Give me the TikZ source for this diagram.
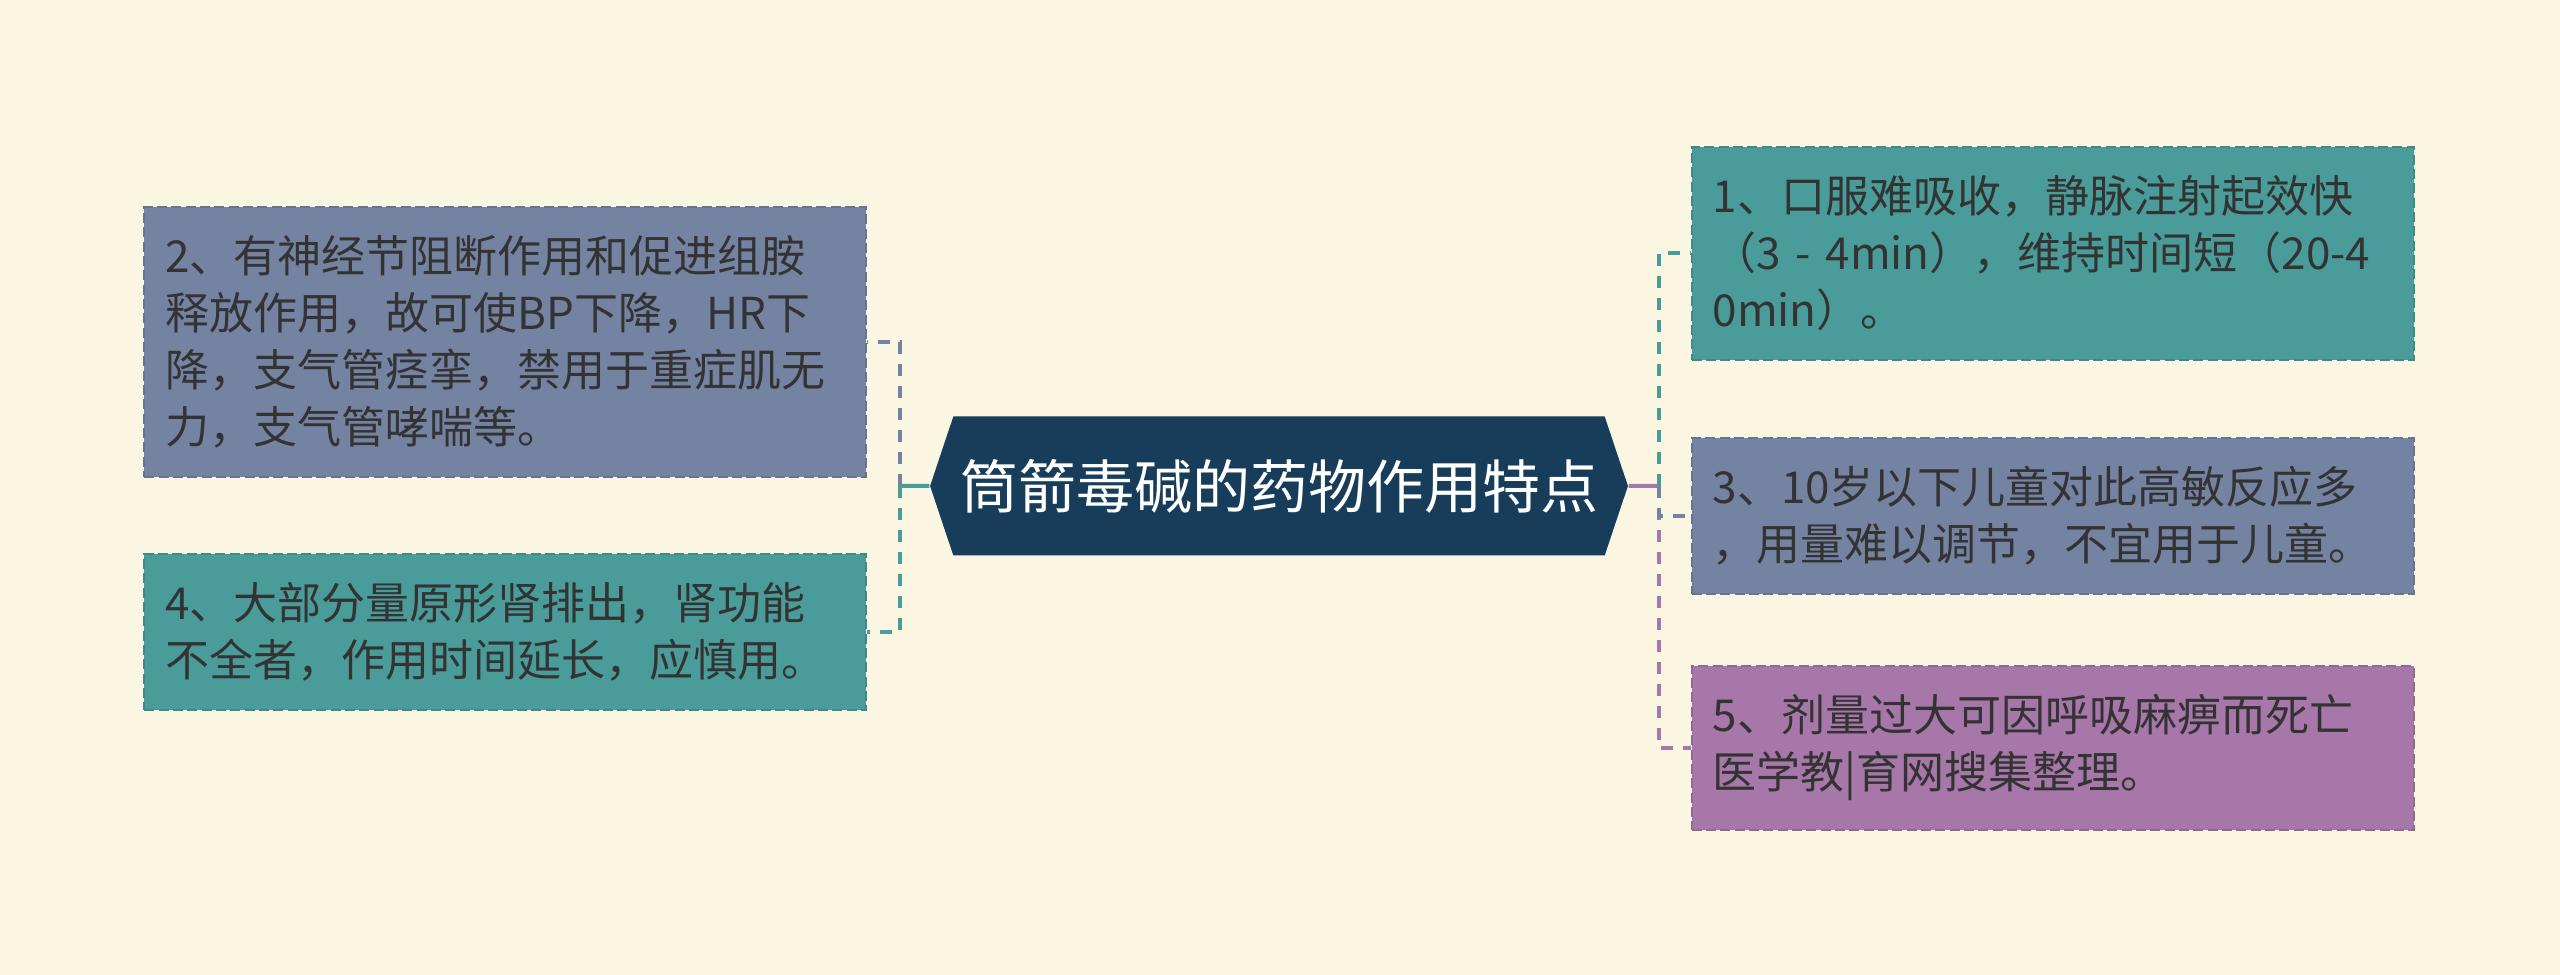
\documentclass[tikz,border=0pt]{standalone}
\usepackage{fontspec}
\setmainfont{Noto Sans CJK SC}
\usepackage{tikz}
\usetikzlibrary{positioning,shapes.symbols}
\definecolor{cream}{HTML}{FBF6E1}
\definecolor{navy}{HTML}{173D5B}
\definecolor{slate}{HTML}{7583A3}
\definecolor{teal}{HTML}{4A9C9A}
\definecolor{mauve}{HTML}{A677A8}
\definecolor{ink}{HTML}{333333}
\tikzset{
    %Define style for the central node
    rootnode/.style={
           signal,
           signal to=west and east,
           signal pointer angle=143,
           fill=navy, draw=none,
           minimum width=193pt,
           minimum height=41.7pt,
           inner xsep=2pt,
           font=\fontsize{17.4pt}{21pt}\selectfont,
           text=white},
    %Define style for boxes
    leaf/.style={
           rectangle,
           line width=0.6pt,
           dash pattern=on 3pt off 1.3pt,
           preaction={draw=white!85!cream, solid, line width=0.6pt},
           text width=204pt,
           inner xsep=6.3pt,
           inner ysep=8.6pt,
           align=left,
           font=\fontsize{13.2pt}{17.1pt}\selectfont,
           text=ink},
    slatebox/.style={leaf, fill=slate, draw=slate!88!black},
    tealbox/.style={leaf, fill=teal, draw=teal!88!black},
    mauvebox/.style={leaf, fill=mauve, draw=mauve!88!black},
    % Define connector styles
    stub/.style={line width=1.2pt},
    conn/.style={
           line width=1.2pt,
           dash pattern=on 3.6pt off 3pt,
           to path={|- (\tikztotarget)}},
    slatedash/.style={conn, draw=slate},
    tealdash/.style={conn, draw=teal},
    mauvedash/.style={conn, draw=mauve}
}

\begin{document}
\begin{tikzpicture}[x=0.3pt,y=0.3pt]
\fill[cream] (0,0) rectangle (2560,975);
 %nodes
\node[rootnode] (0) at (1279,489) {筒箭毒碱的药物作用特点};
\node[slatebox, left=18.6pt of 0, yshift=43.2pt] (2)
  {2、有神经节阻断作用和促进组胺\\释放作用，故可使BP下降，HR下\\降，支气管痉挛，禁用于重症肌无\\力，支气管哮喘等。};
\node[tealbox, left=18.6pt of 0, yshift=-43.8pt] (4)
  {4、大部分量原形肾排出，肾功能\\不全者，作用时间延长，应慎用。};
\node[tealbox, right=18.6pt of 0, yshift=69.75pt] (1)
  {1、口服难吸收，静脉注射起效快\\（3 - 4min），维持时间短（20-4\\0min）。};
\node[slatebox, right=18.6pt of 0, yshift=-9pt] (3)
  {3、10岁以下儿童对此高敏反应多\\，用量难以调节，不宜用于儿童。};
\node[mauvebox, right=18.6pt of 0, yshift=-78.6pt] (5)
  {5、剂量过大可因呼吸麻痹而死亡\\医学教|育网搜集整理。};
\coordinate[left=8.7pt of 0.west] (0l);
\coordinate[right=9pt of 0.east] (0r);
 %connectors
\path
   (0) edge[stub, draw=teal] (0l)
       edge[stub, draw=mauve] (0r)
   (0l) edge[slatedash] (2)
        edge[tealdash] (4)
   (0r) edge[tealdash] (1)
        edge[mauvedash] (5)
        edge[slatedash] (3);
\end{tikzpicture}
\end{document}
